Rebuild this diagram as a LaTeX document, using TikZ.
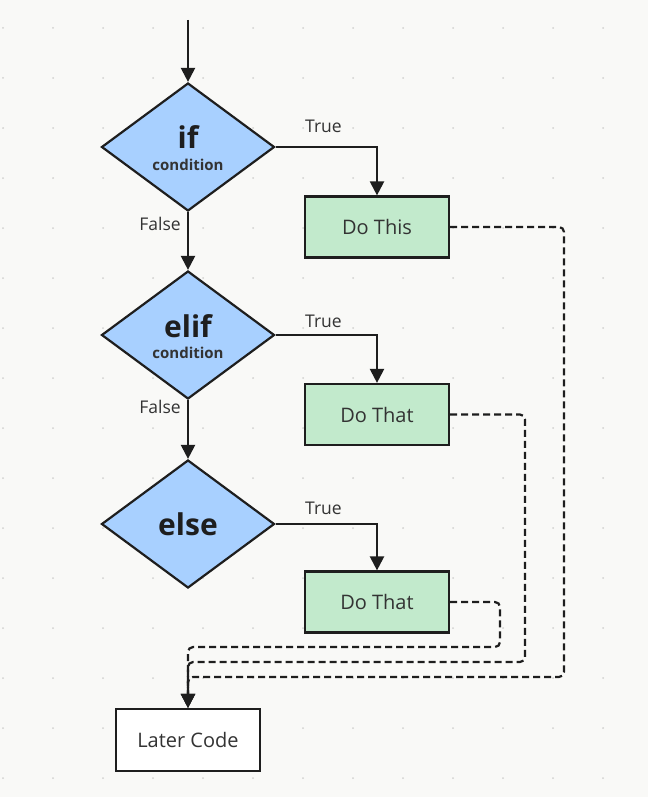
\documentclass[tikz,border=0pt]{standalone}
\usepackage{fontspec}
\setmainfont{Open Sans}
\usetikzlibrary{shapes.geometric,arrows.meta}
\definecolor{bg}{HTML}{F9F9F7}
\definecolor{dotc}{HTML}{D2D2D0}
\definecolor{ink}{HTML}{1E1E1E}
\definecolor{txt}{HTML}{333333}
\definecolor{dblue}{HTML}{A8D0FF}
\definecolor{bgreen}{HTML}{C2EACC}
\begin{document}
\begin{tikzpicture}[x=1pt,y=-1pt,
  dia/.style={diamond,draw=ink,fill=dblue,line width=2.2pt,minimum width=173pt,minimum height=128pt,inner sep=0pt,aspect=1.35},
  greenbox/.style={rectangle,draw=ink,fill=bgreen,line width=2.2pt,minimum width=144pt,minimum height=61pt,inner sep=0pt,text=txt,font=\fontsize{20}{22}\selectfont},
  whitebox/.style={rectangle,draw=ink,fill=white,line width=2.2pt,minimum width=144pt,minimum height=62pt,inner sep=0pt,text=txt,font=\fontsize{20}{22}\selectfont},
  bigtxt/.style={anchor=base,inner sep=0pt,text=ink,font=\fontsize{30}{32}\selectfont\bfseries},
  smalltxt/.style={anchor=base,inner sep=0pt,text=txt,font=\fontsize{15}{17}\selectfont\bfseries},
  lbl/.style={inner sep=0pt,text=txt,font=\fontsize{17.5}{19}\selectfont},
  arr/.style={draw=ink,line width=2.2pt,-{Triangle[width=14pt,length=14pt]}},
  darr/.style={draw=ink,line width=2.2pt,dash pattern=on 7pt off 4pt,rounded corners=5pt,-{Triangle[width=14pt,length=14pt]}}
]
\useasboundingbox (0,0) rectangle (648,797);
\fill[bg] (0,0) rectangle (648,797);
\foreach \gx in {3,53,...,653}{
  \foreach \gy in {28,78,...,778}{
    \fill[dotc] (\gx,\gy) circle (1pt);
  }
}
% decisions
\node[dia] (d1) at (188,147) {};
\node[bigtxt] (t1) at (188,148) {if};
\node[smalltxt] (c1) at (188,170) {condition};
\node[dia] (d2) at (188,335) {};
\node[bigtxt] (t2) at (188,337) {elif};
\node[smalltxt] (c2) at (188,358) {condition};
\node[dia] (d3) at (188,524) {};
\node[bigtxt] (t3) at (188,535) {else};
% actions
\node[greenbox] (b1) at (377,227) {Do This};
\node[greenbox] (b2) at (377,414.5) {Do That};
\node[greenbox] (b3) at (377,602) {Do That};
\node[whitebox] (lc) at (188,740) {Later Code};
% entry
\coordinate (start) at (188,20);
\draw[arr] (start) -- (d1.north);
\draw[arr] (d1.south) -- (d2.north);
\draw[arr] (d2.south) -- (d3.north);
\draw[arr] (d1.east) -| (b1.north);
\draw[arr] (d2.east) -| (b2.north);
\draw[arr] (d3.east) -| (b3.north);
% labels
\node[lbl,anchor=base west] (l1) at (305,132) {True};
\node[lbl,anchor=base west] (l2) at (305,327) {True};
\node[lbl,anchor=base west] (l3) at (305,514) {True};
\node[lbl,anchor=base east] (f1) at (181,230) {False};
\node[lbl,anchor=base east] (f2) at (181,413) {False};
% dashed returns
\coordinate (r1) at (564,677);
\coordinate (r2) at (525,662);
\coordinate (r3) at (500,647);
\draw[darr] (b1.east) -| (r1) -| (lc.north);
\draw[darr] (b2.east) -| (r2) -| (lc.north);
\draw[darr] (b3.east) -| (r3) -| (lc.north);
\end{tikzpicture}
\end{document}
